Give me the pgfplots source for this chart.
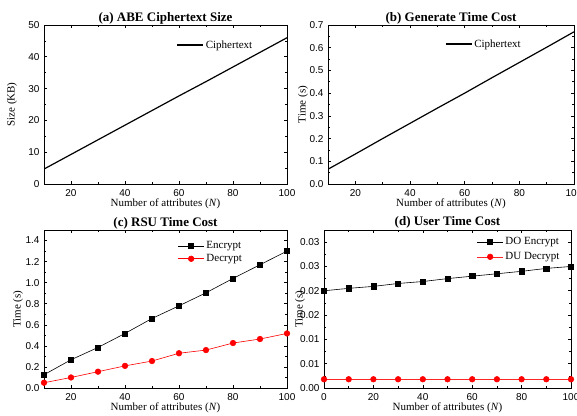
\documentclass[border=0pt]{standalone}
\usepackage{fontspec}
\setmainfont{Liberation Serif}
\newfontfamily\arial{Liberation Sans}
\usepackage{pgfplots}
\pgfplotsset{compat=1.18}

\pgfplotsset{
  every axis title shift=0pt,
  panel/.style={
    scale only axis,
    anchor=south west,
    tick align=inside,
    minor tick num=1,
    major tick length=3pt,
    minor tick length=1.6pt,
    axis line style={line width=0.8pt},
    every tick/.style={black, line width=0.6pt},
    tick label style={font=\arial\fontsize{10}{12}\selectfont},
    xticklabel style={inner sep=1pt, yshift=-4.4pt},
    yticklabel style={xshift=-1pt},
    scaled y ticks=false,
    /pgf/number format/assume math mode=true,
    label style={font=\fontsize{11}{13}\selectfont},
    title style={font=\bfseries\fontsize{13}{15}\selectfont,
      at={(axis description cs:0.5,1)}, anchor=base, yshift=3pt},
    xlabel={Number of attributes (\textit{N})},
    xlabel style={at={(axis description cs:0.5,0)}, anchor=center,
      inner sep=1pt, yshift=-19.5pt},
    legend style={draw=none, fill=none, font=\fontsize{11}{13}\selectfont,
      inner sep=0pt, anchor=west},
    legend cell align=left,
    legend image code/.code={\draw[mark repeat=2,mark phase=2,#1]
      plot coordinates {(0pt,0pt) (13pt,0pt) (26pt,0pt)};},
  }
}

\begin{document}
\begin{tikzpicture}
\useasboundingbox (0,0) rectangle (577pt,415pt);

% (a)
\begin{axis}[panel, at={(44pt,231pt)}, width=243pt, height=159pt,
  title={(a) ABE Ciphertext Size},
  xmin=10, xmax=100, xtick={20,40,60,80,100},
  ymin=0, ymax=50, ytick={0,10,20,30,40,50},
  ylabel={Size (KB)},
  ylabel style={at={(axis description cs:-0.132,0.5)}, anchor=center},
  legend style={at={(axis description cs:0.545,0.874)}},
]
\addplot[black, line width=1.2pt] coordinates {
  (10,4.7) (20,9.3) (30,13.9) (40,18.5) (50,23.1)
  (60,27.7) (70,32.2) (80,36.8) (90,41.4) (100,46.0) };
\legend{Ciphertext}
\end{axis}

% (b)
\begin{axis}[panel, at={(328pt,231pt)}, width=246pt, height=159pt,
  title={(b) Generate Time Cost},
  xmin=10, xmax=100, xtick={20,40,60,80,100},
  ymin=0, ymax=0.7, ytick={0,0.1,0.2,0.3,0.4,0.5,0.6,0.7},
  yticklabel style={/pgf/number format/.cd, fixed, fixed zerofill, precision=1},
  ylabel={Time (s)},
  ylabel style={at={(axis description cs:-0.102,0.5)}, anchor=center},
  legend style={at={(axis description cs:0.475,0.88)}},
]
\addplot[black, line width=1.2pt] coordinates {
  (10,0.065) (20,0.132) (30,0.200) (40,0.267) (50,0.334)
  (60,0.400) (70,0.468) (80,0.535) (90,0.602) (100,0.670) };
\legend{Ciphertext}
\end{axis}

% (c)
\begin{axis}[panel, at={(44pt,27pt)}, width=243pt, height=158pt,
  title={(c) RSU Time Cost}, title style={yshift=1pt},
  xmin=10, xmax=100, xtick={20,40,60,80,100},
  ymin=0, ymax=1.5, ytick={0,0.2,0.4,0.6,0.8,1.0,1.2,1.4},
  yticklabel style={/pgf/number format/.cd, fixed, fixed zerofill, precision=1},
  ylabel={Time (s)},
  ylabel style={at={(axis description cs:-0.107,0.5)}, anchor=center},
  legend style={at={(axis description cs:0.55,0.858)}, row sep=0pt},
]
\addplot[black, line width=0.6pt, mark=square*, mark size=2.6pt] coordinates {
  (10,0.126) (20,0.268) (30,0.385) (40,0.518) (50,0.660)
  (60,0.780) (70,0.904) (80,1.040) (90,1.170) (100,1.300) };
\addplot[red, line width=0.6pt, mark=*, mark size=2.8pt] coordinates {
  (10,0.050) (20,0.100) (30,0.155) (40,0.210) (50,0.256)
  (60,0.330) (70,0.360) (80,0.427) (90,0.465) (100,0.518) };
\legend{Encrypt, Decrypt}
\end{axis}

% (d)
\begin{axis}[panel, at={(324pt,27pt)}, width=247pt, height=158pt,
  title={(d) User Time Cost}, title style={yshift=1pt},
  xmin=0, xmax=100, xtick={0,20,40,60,80,100},
  ymin=0, ymax=0.0325, ytick={0,0.005,0.01,0.015,0.02,0.025,0.03},
  yticklabels={0.00,0.01,0.01,0.02,0.02,0.03,0.03},
  ylabel={Time (s)},
  ylabel style={at={(axis description cs:-0.097,0.5)}, anchor=center},
  legend style={at={(axis description cs:0.618,0.877)}, row sep=2pt},
]
\addplot[black, line width=0.6pt, mark=square*, mark size=2.6pt] coordinates {
  (0,0.0200) (10,0.0205) (20,0.0209) (30,0.0215) (40,0.0219) (50,0.0225)
  (60,0.0230) (70,0.0235) (80,0.0240) (90,0.0246) (100,0.0250) };
\addplot[red!85, line width=0.6pt, mark=*, mark size=2.8pt,
  mark options={fill=red, draw=red}] coordinates {
  (0,0.0018) (10,0.0018) (20,0.0018) (30,0.0018) (40,0.0018) (50,0.0018)
  (60,0.0018) (70,0.0018) (80,0.0018) (90,0.0018) (100,0.0018) };
\legend{DO Encrypt, DU Decrypt}
\end{axis}
\end{tikzpicture}
\end{document}
